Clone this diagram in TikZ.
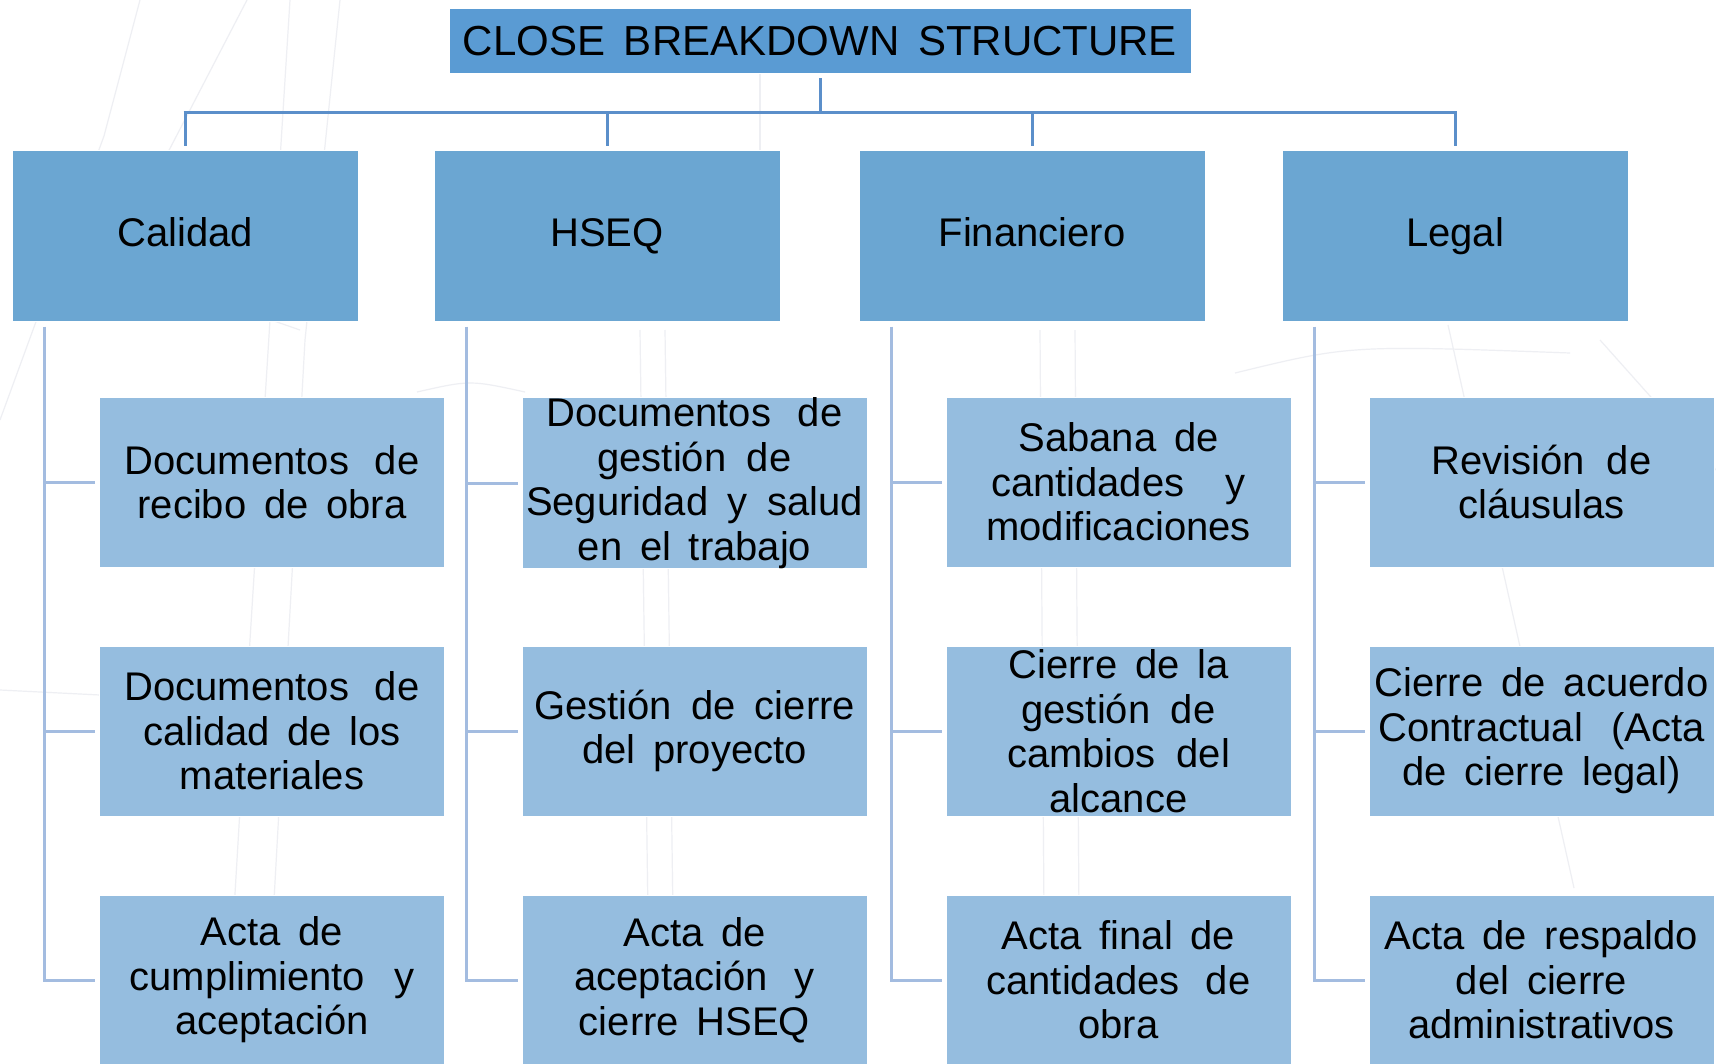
\documentclass[tikz,border=0pt]{standalone}
\usepackage{fontspec}
\setmainfont[WordSpace=1.6]{Liberation Sans}
\definecolor{titleblue}{HTML}{5A9BD3}
\definecolor{catblue}{HTML}{6BA6D2}
\definecolor{itemblue}{HTML}{95BDDF}
\definecolor{topline}{HTML}{5B8FCA}
\definecolor{sideline}{HTML}{A3BCE0}
\definecolor{sketch}{HTML}{EEEFF3}
\newcommand{\jl}[2]{\makebox[#1pt][s]{#2}}
\begin{document}
\begin{tikzpicture}[x=1pt,y=-1pt,
  titlebox/.style={fill=titleblue, draw=white, line width=1pt, minimum width=742pt, minimum height=65pt, inner sep=0pt, font=\fontsize{42}{50}\selectfont},
  catbox/.style={fill=catblue, draw=white, line width=1pt, minimum width=346pt, minimum height=171pt, inner sep=0pt, text height=30pt, text depth=8pt, font=\fontsize{40}{48}\selectfont},
  itembox/.style={fill=itemblue, draw=white, line width=1pt, minimum width=345pt, minimum height=170pt, inner sep=0pt, align=center, font=\fontsize{40}{44.5}\selectfont},
  topconn/.style={draw=topline, line width=3pt},
  sideconn/.style={draw=sideline, line width=3pt, line join=miter},
  wm/.style={draw=sketch, line width=1.2pt}]
\useasboundingbox (0,0) rectangle (1716,1063);
\clip (0,0) rectangle (1716,1063);
\fill[white] (0,0) rectangle (1716,1063);

% faint background sketch
\draw[wm] (140,0) -- (104,136) -- (0,420);
\draw[wm] (247,0) -- (110,264) -- (300,330);
\draw[wm] (340,0) -- (305,340) -- (265,1063);
\draw[wm] (290,0) -- (250,640) -- (225,1063);
\draw[wm] (0,690) -- (200,700);
\draw[wm] (417,392) .. controls (470,380) .. (525,392);
\draw[wm] (640,330) -- (650,1063);
\draw[wm] (665,330) -- (675,1063);
\draw[wm] (760,160) -- (760,60);
\draw[wm] (1040,330) -- (1045,1063);
\draw[wm] (1075,330) -- (1080,1063);
\draw[wm] (1235,373) .. controls (1350,345) .. (1570,353);
\draw[wm] (1448,325) -- (1574,888);
\draw[wm] (1600,340) -- (1716,470);

% title
\node[titlebox] (t) at (820,41) {CLOSE BREAKDOWN STRUCTURE};

% categories
\node[catbox] (c1) at (185,235.5) {Calidad};
\node[catbox] (c2) at (607,235.5) {HSEQ};
\node[catbox] (c3) at (1032,235.5) {Financiero};
\node[catbox] (c4) at (1455,235.5) {Legal};

% items: Calidad
\node[itembox] (i11) at (272,482) {\jl{295}{Documentos de}\\recibo de obra};
\node[itembox] (i12) at (272,731) {\jl{295}{Documentos de}\\calidad de los\\materiales};
\node[itembox] (i13) at (272,980) {Acta de\\\jl{285}{cumplimiento y}\\aceptación};
% items: HSEQ
\node[itembox] (i21) at (694.5,483) {\jl{296}{Documentos de}\\\jl{194}{gestión de}\\\jl{337}{Seguridad y salud}\\en el trabajo};
\node[itembox] (i22) at (694.5,731) {\jl{321}{Gestión de cierre}\\del proyecto};
\node[itembox] (i23) at (694.5,980) {Acta de\\\jl{240}{aceptación y}\\cierre HSEQ};
% items: Financiero
\node[itembox] (i31) at (1118.5,482) {Sabana de\\\jl{255}{cantidades y}\\modificaciones};
\node[itembox] (i32) at (1118.5,731) {Cierre de la\\\jl{194}{gestión de}\\\jl{223}{cambios del}\\alcance};
\node[itembox] (i33) at (1118.5,980) {Acta final de\\\jl{264}{cantidades de}\\obra};
% items: Legal
\node[itembox] (i41) at (1541.5,482) {\jl{220}{Revisión de}\\cláusulas};
\node[itembox] (i42) at (1541.5,731) {\jl{334}{Cierre de acuerdo}\\\jl{326}{Contractual (Acta}\\de cierre legal)};
\node[itembox] (i43) at (1541.5,980) {Acta de respaldo\\del cierre\\administrativos};

% top connectors
\coordinate (bus) at (0,112);
\draw[topconn] ([yshift=-4pt]t.south) -- (t.south |- bus);
\draw[topconn] ([xshift=-1.5pt]c1.north |- bus) -- ([xshift=1.5pt]c4.north |- bus);
\foreach \c in {c1,c2,c3,c4}
  \draw[topconn] (\c.north |- bus) -- ([yshift=4pt]\c.north);

% side connectors
\foreach \k in {1,2,3,4}{
  \coordinate (s\k) at ([xshift=33pt,yshift=-5pt]c\k.south west);
  \draw[sideconn] (s\k) -- (s\k |- i\k3.west) -- ([xshift=-4pt]i\k3.west);
  \draw[sideconn] (s\k |- i\k1.west) -- ([xshift=-4pt]i\k1.west);
  \draw[sideconn] (s\k |- i\k2.west) -- ([xshift=-4pt]i\k2.west);
}
\end{tikzpicture}
\end{document}
